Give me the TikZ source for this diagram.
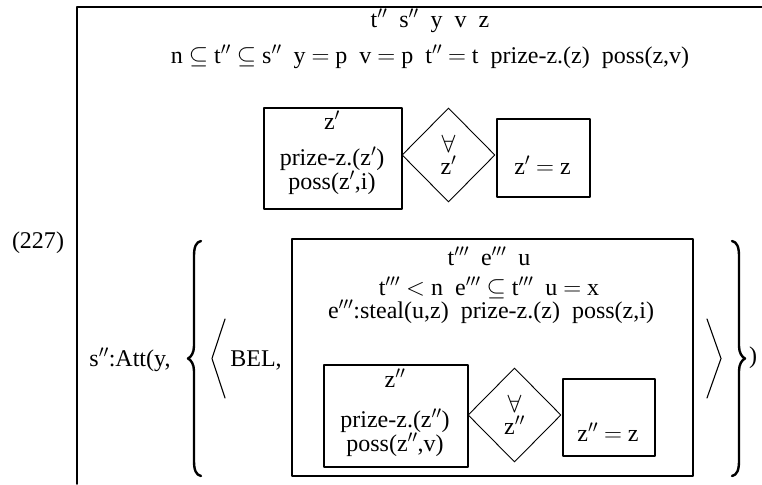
\documentclass[tikz,border=0pt]{standalone}
\usepackage{fontspec}
\setmainfont{Liberation Serif}
\usetikzlibrary{shapes.geometric}

\begin{document}
\begin{tikzpicture}[x=1pt, y=-1pt, font=\fontsize{24}{26}\selectfont, line join=round, line cap=round,
    drsbox/.style={draw, line width=1.8pt, inner sep=0pt, anchor=north west},
    quant/.style={diamond, draw, line width=0.9pt, inner sep=0pt, minimum width=93pt, minimum height=94pt, align=center}]
  \useasboundingbox (0,0) rectangle (762,484);
  \def\sp{~~}
  % outer box, cut off at the right and at the bottom
  \draw[line width=1.8pt] (762,7)--(77,7)--(77,484);
  \node (univ) at (430,21) {t$''$\sp s$''$\sp y\sp v\sp z};
  \node (conds) at (430,57) {n $\subseteq$\ t$''$ $\subseteq$ s$''$\sp y $=$ p\sp v $=$ p\sp t$''$ $=$ t\sp prize-z.(z)\sp poss(z,v)};
  \node[drsbox, minimum width=138pt, minimum height=101pt] (ante) at (263,107) {};
  \node (anteu) at (332,120) {z$'$};
  \node (antea) at (332,159) {prize-z.(z$'$)};
  \node (anteb) at (332,183) {poss(z$'$,i)};
  \node[quant] (every) at (448.5,155) {$\forall$\\[-4pt]z$'$};
  \node[drsbox, minimum width=93pt, minimum height=78pt] (cons) at (496,118) {};
  \node (consa) at (542.5,165) {z$'$ $=$ z};
  \node (num) at (38,243) {(227)};
  \node (att) at (130,360) {s$''$:Att(y,};
  \node (bel) at (256,360) {BEL,};
  \node (rpar) at (753,358) {)};
  % braces and angles
  \draw[line width=2.4pt] (201,241) .. controls (196,242) and (194,247) .. (194,256) -- (194,346)
    .. controls (194,353) and (191,357) .. (188,358.5) .. controls (191,360) and (194,364) .. (194,371)
    -- (194,461) .. controls (194,470) and (196,475) .. (201,476);
  \draw[line width=2.4pt] (732,241) .. controls (737,242) and (739,247) .. (739,256) -- (739,346)
    .. controls (739,353) and (742,357) .. (745,358.5) .. controls (742,360) and (739,364) .. (739,371)
    -- (739,461) .. controls (739,470) and (737,475) .. (732,476);
  \draw[line width=1.1pt] (225,319)--(212,358.5)--(225,398);
  \draw[line width=1.1pt] (707,319)--(721,358.5)--(707,398);
  % attitude box
  \node[drsbox, minimum width=401pt, minimum height=237pt] (bbox) at (291,238) {};
  \node (bunivs) at (489,256) {t$'''$\sp e$'''$\sp u};
  \node (bcondsa) at (489,288) {t$'''$ $<$ n\sp e$'''$ $\subseteq$ t$'''$\sp u $=$ x};
  \node (bcondsb) at (491,312) {e$'''$:steal(u,z)\sp prize-z.(z)\sp poss(z,i)};
  \node[drsbox, minimum width=144pt, minimum height=102pt] (bante) at (323,364) {};
  \node (banteu) at (395,378) {z$''$};
  \node (bantea) at (395,421) {prize-z.(z$''$)};
  \node (banteb) at (395,445) {poss(z$''$,v)};
  \node[quant] (bevery) at (514.5,415) {$\forall$\\[-4pt]z$''$};
  \node[drsbox, minimum width=92pt, minimum height=77pt] (bcons) at (562,378) {};
  \node (bconsa) at (608,432) {z$''$ $=$ z};
\end{tikzpicture}
\end{document}
